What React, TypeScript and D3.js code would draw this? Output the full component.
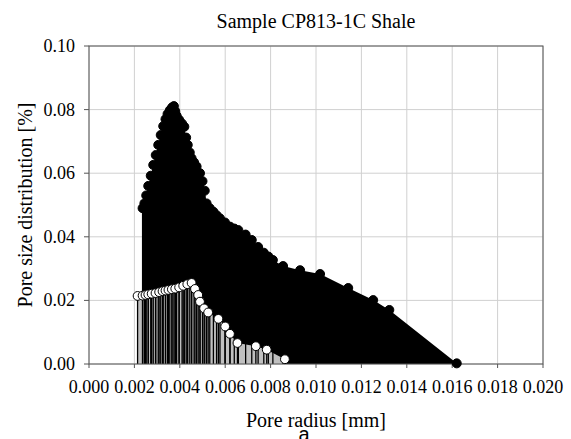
import React from "react";
import * as d3 from "d3";

// Black (filled) series: pore radius [mm], distribution [%]
const blackX = [
  0.00236, 0.00244, 0.00252, 0.00261, 0.00272, 0.00283, 0.00294, 0.00305, 0.00316, 0.00327,
  0.00337, 0.00346, 0.00356, 0.00366, 0.00374, 0.0038, 0.00386, 0.00397, 0.0041, 0.0042,
  0.00428, 0.00435, 0.00444, 0.00452, 0.00463, 0.00474, 0.00489, 0.005, 0.0051, 0.00518,
  0.00532, 0.00548, 0.00562, 0.00577, 0.00599, 0.00621, 0.0064, 0.00658, 0.0069, 0.00717,
  0.00745, 0.0077, 0.0079, 0.0081, 0.00855, 0.0093, 0.01018, 0.01142, 0.01252, 0.01323, 0.0162,
];
const blackY = [
  0.049, 0.0505, 0.053, 0.056, 0.0592, 0.0626, 0.0657, 0.0689, 0.072, 0.0748,
  0.077, 0.0786, 0.0798, 0.0807, 0.0811, 0.0795, 0.0781, 0.0768, 0.0756, 0.0746,
  0.0712, 0.0689, 0.0665, 0.0647, 0.0634, 0.0621, 0.06, 0.0575, 0.0545, 0.0505,
  0.049, 0.0479, 0.0468, 0.0458, 0.0445, 0.0432, 0.0426, 0.0421, 0.0407, 0.039,
  0.0368, 0.035, 0.0338, 0.0327, 0.0308, 0.0295, 0.0283, 0.0239, 0.0201, 0.017, 0.0002,
];

// White (open) series
const whiteX = [
  0.00214, 0.00236, 0.00249, 0.00261, 0.00276, 0.00293, 0.00309, 0.00324, 0.00337, 0.0035,
  0.00365, 0.0038, 0.00397, 0.00415, 0.00433, 0.00452, 0.00467, 0.00481, 0.00489, 0.00507,
  0.00525, 0.0057, 0.006, 0.00621, 0.00654, 0.00735, 0.00783, 0.00863,
];
const whiteY = [
  0.0214, 0.0215, 0.0217, 0.0219, 0.0221, 0.0223, 0.0226, 0.0229, 0.0231, 0.0233,
  0.0235, 0.0237, 0.0241, 0.0246, 0.0251, 0.0255, 0.0236, 0.0217, 0.0196, 0.0175,
  0.0162, 0.0142, 0.0118, 0.0095, 0.0066, 0.0056, 0.0045, 0.0015,
];

const xTicks = [0, 0.002, 0.004, 0.006, 0.008, 0.01, 0.012, 0.014, 0.016, 0.018, 0.02];
const yTicks = [0, 0.02, 0.04, 0.06, 0.08, 0.1];

const title = "Sample CP813-1C Shale";
const xLabel = "Pore radius [mm]";
const yLabel = "Pore size distribution [%]";

export default function App() {
  const W = 571, H = 439;
  const left = 89, right = 543, top = 46, bottom = 364;
  const x = d3.scaleLinear().domain([0, 0.02]).range([left, right]);
  const y = d3.scaleLinear().domain([0, 0.1]).range([bottom, top]);

  const black = blackX.map((v, i) => [v, blackY[i]] as [number, number]);
  const white = whiteX.map((v, i) => [v, whiteY[i]] as [number, number]);

  const area = d3.area<[number, number]>()
    .x((d) => x(d[0]))
    .y0(y(0))
    .y1((d) => y(d[1]));

  const serif = { fontFamily: '"Liberation Serif", "Times New Roman", Times, "DejaVu Serif", serif' };
  const sans = { fontFamily: '"Liberation Sans", Arial, sans-serif' };
  const axisColor = "#555";
  const gridColor = "#d0d0d0";

  return (
    <svg width={W} height={H} style={{ position: "absolute", left: 0, top: 0, background: "#fff" }}>
      {/* grid */}
      {xTicks.map((t) => (
        <line key={"gx" + t} x1={x(t)} x2={x(t)} y1={top} y2={bottom} stroke={gridColor} strokeWidth={1} />
      ))}
      {yTicks.map((t) => (
        <line key={"gy" + t} x1={left} x2={right} y1={y(t)} y2={y(t)} stroke={gridColor} strokeWidth={1} />
      ))}

      {/* areas */}
      <path d={area(black) || ""} fill="#000" />
      <path d={area(white) || ""} fill="#c0c0c0" />

      {/* drop lines */}
      {black.map((d, i) => (
        <line key={"bd" + i} x1={x(d[0])} x2={x(d[0])} y1={y(d[1])} y2={y(0)} stroke="#000" strokeWidth={1.3} />
      ))}
      {white.map((d, i) => (
        <line key={"wd" + i} x1={x(d[0])} x2={x(d[0])} y1={y(d[1])} y2={y(0)} stroke="#000" strokeWidth={1.3} />
      ))}

      {/* frame & axes */}
      <rect x={left} y={top} width={right - left} height={bottom - top} fill="none" stroke={axisColor} strokeWidth={1} />
      {xTicks.map((t) => (
        <g key={"xt" + t}>
          <line x1={x(t)} x2={x(t)} y1={bottom} y2={bottom + 4} stroke={axisColor} />
          <text x={x(t)} y={393} textAnchor="middle" style={serif} fontSize={18} fill="#000">
            {d3.format(".3f")(t)}
          </text>
        </g>
      ))}
      {yTicks.map((t) => (
        <g key={"yt" + t}>
          <line x1={left - 5} x2={left} y1={y(t)} y2={y(t)} stroke={axisColor} />
          <text x={75} y={y(t) + 6} textAnchor="end" style={serif} fontSize={18} fill="#000">
            {d3.format(".2f")(t)}
          </text>
        </g>
      ))}

      {/* markers */}
      {black.map((d, i) => (
        <circle key={"bc" + i} cx={x(d[0])} cy={y(d[1])} r={4.5} fill="#000" stroke="#000" strokeWidth={1} />
      ))}
      {white.map((d, i) => (
        <circle key={"wc" + i} cx={x(d[0])} cy={y(d[1])} r={4.4} fill="#fff" stroke="#000" strokeWidth={1} />
      ))}

      {/* labels */}
      <text x={(left + right) / 2} y={28} textAnchor="middle" style={serif} fontSize={20} fill="#000">
        {title}
      </text>
      <text x={(left + right) / 2} y={427} textAnchor="middle" style={serif} fontSize={20} fill="#000">
        {xLabel}
      </text>
      <text x={304} y={441} textAnchor="middle" style={sans} fontSize={20} fill="#000">
        a
      </text>
      <text
        transform={`translate(32, ${(top + bottom) / 2}) rotate(-90)`}
        textAnchor="middle"
        style={serif}
        fontSize={20}
        fill="#000"
      >
        {yLabel}
      </text>
    </svg>
  );
}
